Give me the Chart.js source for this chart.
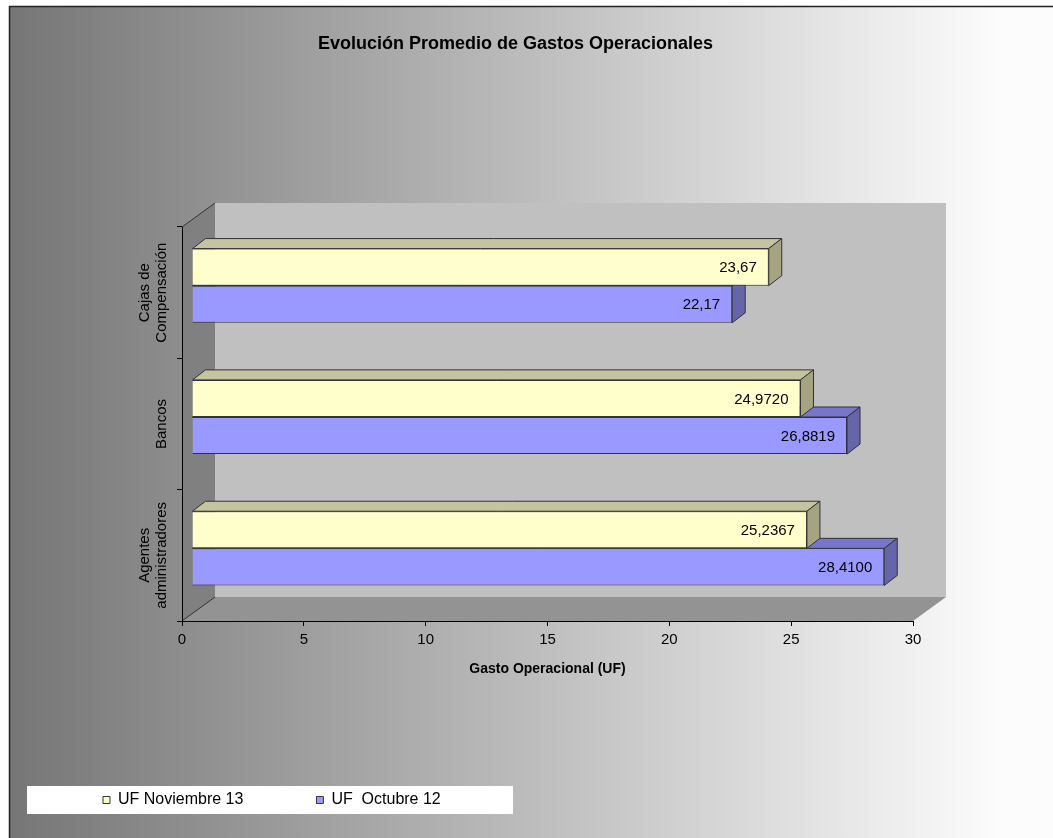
<!DOCTYPE html>
<html>
<head>
<meta charset="utf-8">
<title>Evolución Promedio de Gastos Operacionales</title>
<script src="https://cdn.jsdelivr.net/npm/chart.js@4.4.1/dist/chart.umd.min.js"></script>
<style>
	html, body { margin: 0; padding: 0; background: #fff; }
	#wrap { width: 1053px; height: 838px; }
</style>
</head>
<body>
<div id="wrap"><canvas id="mycanvas" width="1053" height="838"></canvas></div>
<script>
// datos
var categorias = [["Cajas de", "Compensación"], ["Bancos"], ["Agentes", "administradores"]];
var series = ["UF Noviembre 13", "UF  Octubre 12"];
var uf_noviembre = [23.67, 24.9720, 25.2367];
var uf_octubre = [22.17, 26.8819, 28.4100];
var decimales = [2, 4, 4];
var ticks_x = [0, 5, 10, 15, 20, 25, 30];

var FUENTE = "'Liberation Sans', Arial, sans-serif";
Chart.defaults.font.family = FUENTE;
Chart.defaults.color = "#000";

// profundidad de las paredes y de las barras
var PARED_DX = 33, PARED_DY = -24;
var BARRA_DX = 13, BARRA_DY = -10;
var DESPLAZ_X = 10, DESPLAZ_Y = -7;

function poligono(ctx, puntos, color) {
	ctx.beginPath();
	ctx.moveTo(puntos[0][0], puntos[0][1]);
	for (var i = 1; i < puntos.length; i++) {
		ctx.lineTo(puntos[i][0], puntos[i][1]);
	}
	ctx.closePath();
	ctx.fillStyle = color;
	ctx.fill();
	ctx.stroke();
}

var fondo = {
	id: "fondo",
	beforeDraw: function(chart) {
		var ctx = chart.ctx, w = chart.width, h = chart.height;
		ctx.save();
		ctx.fillStyle = "#fff";
		ctx.fillRect(0, 0, w, h);
		var g = ctx.createLinearGradient(9, 0, 1000, 0);
		g.addColorStop(0, "#767676");
		g.addColorStop(1, "#fcfcfc");
		ctx.fillStyle = g;
		ctx.fillRect(9, 6, w - 9, h - 6);
		ctx.strokeStyle = "#222";
		ctx.lineWidth = 1.5;
		ctx.beginPath();
		ctx.moveTo(9.5, h);
		ctx.lineTo(9.5, 6.5);
		ctx.lineTo(w, 6.5);
		ctx.stroke();

		// caja blanca de la leyenda
		ctx.fillStyle = "#fff";
		ctx.fillRect(27, 786, 486, 28);

		// paredes y piso
		var sx = chart.scales.x, sy = chart.scales.y;
		var l = sx.getPixelForValue(ticks_x[0]);
		var r = sx.getPixelForValue(ticks_x[ticks_x.length - 1]);
		var t = sy.top, b = sy.bottom;
		ctx.lineWidth = 1;
		ctx.strokeStyle = "rgba(0,0,0,0)";
		poligono(ctx, [[l + PARED_DX, t + PARED_DY], [r + PARED_DX, t + PARED_DY], [r + PARED_DX, b + PARED_DY], [l + PARED_DX, b + PARED_DY]], "#c0c0c0");
		poligono(ctx, [[l, t], [l + PARED_DX, t + PARED_DY], [l + PARED_DX, b + PARED_DY], [l, b]], "#808080");
		poligono(ctx, [[l, b], [l + PARED_DX, b + PARED_DY], [r + PARED_DX, b + PARED_DY], [r, b]], "#939393");
		ctx.strokeStyle = "#333";
		ctx.beginPath();
		ctx.moveTo(l, t);
		ctx.lineTo(l + PARED_DX, t + PARED_DY);
		ctx.moveTo(l, b);
		ctx.lineTo(l + PARED_DX, b + PARED_DY);
		ctx.stroke();
		ctx.restore();
	}
};

var barras3d = {
	id: "barras3d",
	beforeDatasetsDraw: function(chart) {
		chart.ctx.save();
		chart.ctx.translate(DESPLAZ_X, DESPLAZ_Y);
	},
	afterDatasetDraw: function(chart, args) {
		var ctx = chart.ctx;
		var ds = chart.data.datasets[args.index];
		ctx.save();
		ctx.lineWidth = 1;
		ctx.strokeStyle = "#333";
		args.meta.data.forEach(function(bar, i) {
			var p = bar.getProps(["x", "y", "base", "height"], true);
			var arriba = p.y - p.height / 2, abajo = p.y + p.height / 2;
			poligono(ctx, [[p.base, arriba], [p.base + BARRA_DX, arriba + BARRA_DY], [p.x + BARRA_DX, arriba + BARRA_DY], [p.x, arriba]], ds.colorTapa);
			poligono(ctx, [[p.x, arriba], [p.x + BARRA_DX, arriba + BARRA_DY], [p.x + BARRA_DX, abajo + BARRA_DY], [p.x, abajo]], ds.colorLado);
			var texto = ds.data[i].toFixed(decimales[i]).replace(".", ",");
			ctx.fillStyle = "#000";
			ctx.font = "15px " + FUENTE;
			ctx.textAlign = "right";
			ctx.textBaseline = "middle";
			ctx.fillText(texto, p.x - 12, p.y + 1);
		});
		ctx.restore();
	},
	afterDatasetsDraw: function(chart) {
		chart.ctx.restore();
	}
};

var etiquetasY = {
	id: "etiquetasY",
	afterDraw: function(chart) {
		var ctx = chart.ctx, sy = chart.scales.y;
		ctx.save();
		ctx.font = "15px " + FUENTE;
		ctx.fillStyle = "#000";
		ctx.textAlign = "center";
		ctx.textBaseline = "middle";
		chart.data.labels.forEach(function(lineas, i) {
			ctx.save();
			ctx.translate(sy.right - 20, sy.getPixelForValue(i));
			ctx.rotate(-Math.PI / 2);
			for (var j = 0; j < lineas.length; j++) {
				ctx.fillText(lineas[j], 0, -(lineas.length - 1 - j) * 17);
			}
			ctx.restore();
		});
		ctx.restore();
	}
};

var chartdata = {
	labels: categorias,
	datasets: [
		{
			label: series[0],
			data: uf_noviembre,
			backgroundColor: "#ffffcc",
			borderColor: "#333",
			borderWidth: 1,
			colorTapa: "#c4c4a0",
			colorLado: "#a4a482",
			clip: false
		},
		{
			label: series[1],
			data: uf_octubre,
			backgroundColor: "#9999ff",
			borderColor: "#333",
			borderWidth: 1,
			colorTapa: "#7676cc",
			colorLado: "#6565aa",
			clip: false
		}
	]
};

var ctx = document.getElementById("mycanvas");

var grafico = new Chart(ctx, {
	type: "bar",
	data: chartdata,
	options: {
		indexAxis: "y",
		responsive: false,
		animation: false,
		categoryPercentage: 0.565,
		barPercentage: 1,
		layout: { padding: { left: 30, right: 52, top: 0, bottom: 20 } },
		plugins: {
			title: {
				display: true,
				text: "Evolución Promedio de Gastos Operacionales",
				color: "#000",
				font: { size: 18, weight: "bold" },
				padding: { top: 33, bottom: 172.4 }
			},
			legend: {
				position: "bottom",
				align: "start",
				labels: { boxWidth: 7, boxHeight: 7, padding: 73, color: "#000", font: { size: 16 } }
			},
			tooltip: { enabled: false }
		},
		scales: {
			x: {
				min: ticks_x[0],
				max: ticks_x[ticks_x.length - 1],
				ticks: { stepSize: ticks_x[1] - ticks_x[0], color: "#000", font: { size: 15 }, padding: 5 },
				grid: { drawOnChartArea: false, tickLength: 5, color: "#000" },
				border: { color: "#000" },
				title: {
					display: true,
					text: "Gasto Operacional (UF)",
					color: "#000",
					font: { size: 14, weight: "bold" },
					padding: { top: 0, bottom: 41.6 }
				},
				afterFit: function(s) { s.height = 98; }
			},
			y: {
				ticks: { display: false },
				grid: { drawOnChartArea: false, tickLength: 5, color: "#000" },
				border: { color: "#000" },
				afterFit: function(s) { s.width = 152; }
			},
			yr: {
				type: "linear",
				axis: "y",
				position: "right",
				grid: { display: false },
				ticks: { display: false },
				border: { display: false },
				afterFit: function(s) { s.width = 88; }
			}
		}
	},
	plugins: [fondo, barras3d, etiquetasY]
});
</script>
</body>
</html>
